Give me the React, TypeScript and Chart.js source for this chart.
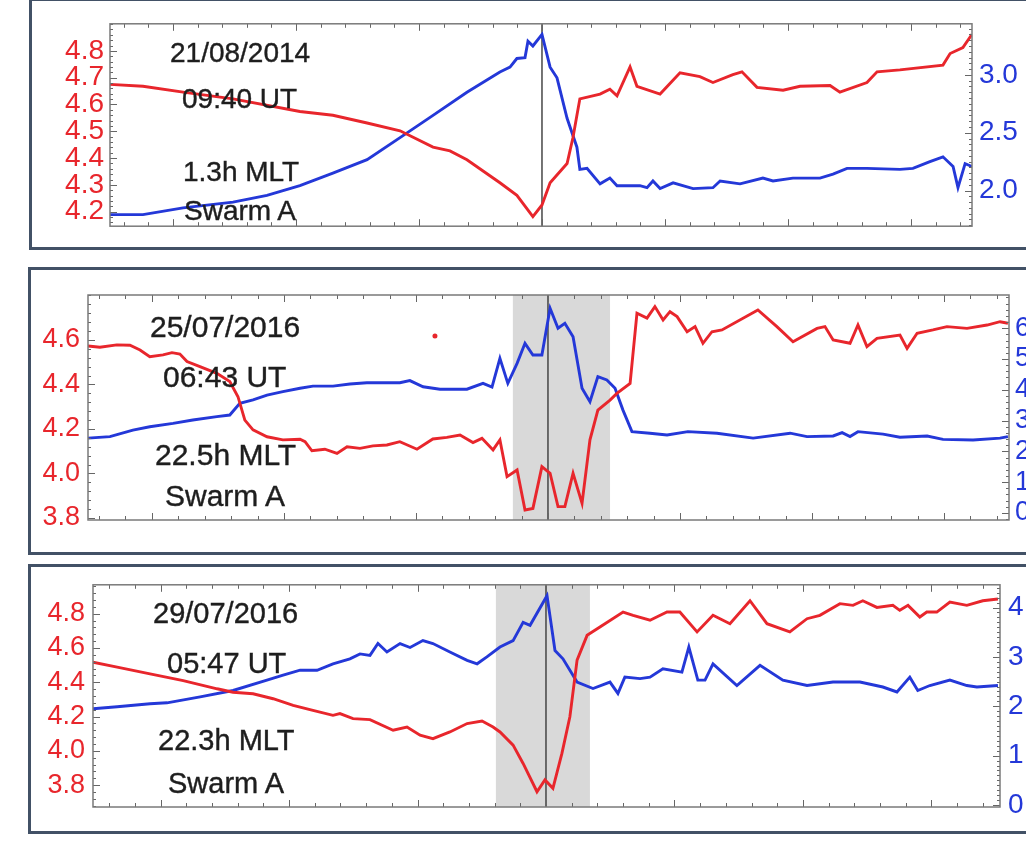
import React, { useEffect, useRef } from "react";
import { Chart, registerables } from "chart.js";

Chart.register(...registerables);

const RED = "#e8262c";
const BLUE = "#2438d8";
const FONT = "'Liberation Sans', Arial, sans-serif";

// ---------------- Panel 1 (21/08/2014) ----------------
const p1Notes = ["21/08/2014", "09:40 UT", "1.3h MLT", "Swarm A"];
const p1RedX = [2.44,3.78,5.41,7.44,10.16,11.50,12.89,14.23,15.57,16.26,16.95,18.29,18.98,19.63,20.0,20.33,21.02,21.26,21.42,21.54,22.36,22.76,23.05,23.58,23.86,24.80,25.61,26.42,26.95,27.76,28.13,28.74,29.80,30.49,31.71,32.11,33.21,33.62,34.55,36.30,36.59,37.11,37.48];
const p1Red = [4.675,4.668,4.646,4.621,4.574,4.56,4.531,4.502,4.441,4.427,4.394,4.308,4.261,4.182,4.225,4.308,4.38,4.477,4.56,4.621,4.639,4.657,4.632,4.74,4.668,4.639,4.718,4.704,4.682,4.711,4.722,4.664,4.653,4.668,4.671,4.646,4.682,4.722,4.729,4.747,4.79,4.812,4.862];
const p1BlueX = [2.44,3.78,5.41,7.44,8.82,10.16,11.50,12.89,14.23,15.57,16.95,18.29,18.70,18.98,19.31,19.43,19.63,20.0,20.33,20.61,21.02,21.42,21.54,21.83,22.36,22.76,23.05,23.98,24.27,24.51,24.80,25.33,26.14,26.95,27.24,28.05,28.98,29.39,30.20,31.30,31.83,32.40,33.21,34.55,35.08,35.77,36.30,36.71,36.91,37.20,37.48];
const p1Blue = [1.792,1.792,1.85,1.9,1.958,2.042,2.15,2.267,2.458,2.65,2.85,3.025,3.067,3.142,3.15,3.292,3.25,3.35,3.067,2.975,2.625,2.375,2.183,2.192,2.058,2.108,2.042,2.042,2.025,2.083,2.017,2.067,2.017,2.025,2.083,2.058,2.108,2.083,2.108,2.108,2.142,2.192,2.192,2.183,2.192,2.25,2.292,2.208,2.025,2.233,2.208];
const p1LeftTicks = [4.2, 4.3, 4.4, 4.5, 4.6, 4.7, 4.8];
const p1LeftLabels = ["4.2", "4.3", "4.4", "4.5", "4.6", "4.7", "4.8"];
const p1RightTicks = [2.0, 2.5, 3.0];
const p1RightLabels = ["2.0", "2.5", "3.0"];
const p1Event = 20;

// ---------------- Panel 2 (25/07/2016) ----------------
const p2Notes = ["25/07/2016", "06:43 UT", "22.5h MLT", "Swarm A"];
const p2RedX = [2.58,3.03,3.67,4.17,4.55,4.92,5.42,5.76,6.06,6.33,6.82,7.46,7.95,8.26,8.52,8.83,9.36,9.96,10.61,10.80,11.06,11.55,12.01,12.39,12.88,13.37,13.90,14.39,15.04,15.64,16.17,16.67,17.16,17.50,17.92,18.18,18.45,18.83,19.13,19.43,19.77,20.08,20.38,20.64,20.95,21.29,21.59,21.89,22.35,22.61,23.11,23.37,23.75,24.05,24.36,24.62,24.89,25.27,25.57,25.87,26.21,26.59,27.95,28.67,29.28,30.19,30.49,30.80,31.44,31.74,32.08,32.46,33.33,33.60,33.98,34.58,35.11,35.87,36.63,37.12,37.42];
const p2Red = [4.573,4.567,4.578,4.576,4.555,4.525,4.533,4.543,4.537,4.503,4.48,4.45,4.413,4.345,4.24,4.196,4.165,4.151,4.154,4.143,4.102,4.109,4.09,4.12,4.113,4.124,4.128,4.143,4.109,4.155,4.162,4.173,4.139,4.158,4.106,4.151,3.986,4.016,3.836,3.843,4.031,4.001,3.851,3.851,4.001,3.866,4.151,4.285,4.33,4.36,4.405,4.72,4.698,4.75,4.69,4.727,4.705,4.637,4.66,4.585,4.637,4.645,4.735,4.66,4.592,4.652,4.66,4.6,4.585,4.667,4.57,4.607,4.622,4.562,4.63,4.645,4.66,4.652,4.667,4.682,4.675];
const p2BlueX = [2.58,3.41,4.28,4.92,5.80,6.55,7.46,7.95,8.33,8.83,9.36,9.96,10.61,11.10,11.86,12.50,13.14,14.39,14.77,15.27,15.91,16.93,17.54,17.88,18.18,18.48,18.83,19.13,19.43,19.77,20.08,20.38,20.64,20.95,21.29,21.59,21.89,22.23,22.54,22.84,23.18,23.86,24.51,25.30,26.40,27.77,29.17,29.81,30.80,31.14,31.44,31.74,32.69,33.33,34.36,34.96,36.10,37.12,37.42];
const p2Blue = [2.43,2.48,2.69,2.80,2.91,3.02,3.13,3.18,3.56,3.67,3.83,3.94,4.05,4.12,4.12,4.19,4.23,4.23,4.30,4.10,4.02,4.02,4.21,4.09,5.02,4.21,4.86,5.51,5.13,5.13,6.65,6.00,6.16,5.72,4.05,3.61,4.43,4.32,4.05,3.34,2.64,2.59,2.53,2.64,2.59,2.43,2.59,2.48,2.50,2.61,2.48,2.64,2.56,2.46,2.50,2.39,2.37,2.43,2.48];
const p2StrayX = [15.72];
const p2Stray = [4.618];
const p2LeftTicks = [3.8, 4.0, 4.2, 4.4, 4.6];
const p2LeftLabels = ["3.8", "4.0", "4.2", "4.4", "4.6"];
const p2RightTicks = [0, 1, 2, 3, 4, 5, 6];
const p2RightLabels = ["0", "1", "2", "3", "4", "5", "6"];
const p2Event = 20;
const p2Shade = [18.67, 22.35];

// ---------------- Panel 3 (29/07/2016) ----------------
const p3Notes = ["29/07/2016", "05:47 UT", "22.3h MLT", "Swarm A"];
const p3RedX = [2.37,3.31,4.59,5.88,7.20,7.82,8.60,9.38,10.16,10.93,11.71,11.98,12.49,13.15,14.05,14.59,15.10,15.60,16.26,16.93,17.51,17.94,18.21,18.72,19.11,19.65,19.96,20.27,20.62,20.93,21.21,21.60,22.10,23.00,23.39,24.05,24.71,25.21,25.88,26.50,27.16,27.94,28.60,29.49,30.16,30.66,31.44,31.95,32.33,32.88,33.50,33.77,34.09,34.55,34.82,35.21,35.72,36.38,37.00,37.59];
const p3Red = [4.517,4.488,4.449,4.41,4.362,4.342,4.333,4.304,4.265,4.236,4.207,4.217,4.188,4.182,4.12,4.139,4.091,4.071,4.11,4.159,4.174,4.139,4.11,4.033,3.926,3.761,3.83,3.781,3.985,4.199,4.529,4.674,4.723,4.81,4.791,4.762,4.81,4.81,4.694,4.791,4.742,4.876,4.742,4.694,4.771,4.791,4.859,4.849,4.876,4.837,4.849,4.82,4.849,4.781,4.81,4.81,4.868,4.849,4.876,4.886];
const p3BlueX = [2.37,3.31,4.59,5.25,6.54,7.82,9.14,9.77,10.43,11.09,11.71,12.37,12.76,13.15,13.46,13.81,14.32,14.71,15.21,15.60,16.26,16.93,17.32,17.70,18.21,18.72,19.11,19.38,20.04,20.35,20.66,21.21,21.83,22.49,22.80,23.07,23.66,24.05,24.55,25.29,25.56,25.91,26.19,26.50,27.43,28.33,29.22,30.16,31.17,32.22,33.11,33.66,34.16,34.47,34.94,35.72,36.38,36.77,37.59];
const p3Blue = [1.95,1.99,2.05,2.07,2.19,2.32,2.53,2.63,2.73,2.73,2.86,2.96,3.06,3.03,3.27,3.10,3.27,3.19,3.33,3.27,3.10,2.93,2.86,3.00,3.20,3.33,3.70,3.64,4.24,3.13,2.96,2.49,2.36,2.49,2.26,2.59,2.56,2.59,2.76,2.69,3.20,2.53,2.53,2.86,2.42,2.83,2.53,2.42,2.49,2.49,2.39,2.29,2.59,2.32,2.42,2.53,2.42,2.39,2.42];
const p3LeftTicks = [3.8, 4.0, 4.2, 4.4, 4.6, 4.8];
const p3LeftLabels = ["3.8", "4.0", "4.2", "4.4", "4.6", "4.8"];
const p3RightTicks = [0, 1, 2, 3, 4];
const p3RightLabels = ["0", "1", "2", "3", "4"];
const p3Event = 20;
const p3Shade = [18.05, 21.71];

// ---------------- helpers ----------------
const zip = (xs: number[], ys: number[]) =>
  xs.slice(0, Math.min(xs.length, ys.length)).map((x, i) => ({ x, y: ys[i] }));

type Axis = { min: number; max: number; ticks: number[]; labels: string[]; minor: number; font: number; pad: number };
type Panel = {
  box: { left: number; top: number; height: number };
  canvasTop: number;
  canvasH: number;
  plot: { l: number; r: number; t: number; b: number };
  xMin: number;
  xMax: number;
  redX: number[];
  red: number[];
  blueX: number[];
  blue: number[];
  strayX?: number[];
  stray?: number[];
  left: Axis;
  right: Axis;
  event: number;
  shade?: number[];
  notes: string[];
  noteFont: number;
  notePos: number[][];
};

const W = 1026;

const panels: Panel[] = [
  {
    box: { left: 29, top: -2, height: 252 },
    canvasTop: 0,
    canvasH: 250,
    plot: { l: 110, r: 972, t: 22, b: 232 },
    xMin: 2.44,
    xMax: 37.48,
    redX: p1RedX, red: p1Red, blueX: p1BlueX, blue: p1Blue,
    left: { min: 4.146, max: 4.901, ticks: p1LeftTicks, labels: p1LeftLabels, minor: 0.02, font: 28, pad: 6 },
    right: { min: 1.692, max: 3.442, ticks: p1RightTicks, labels: p1RightLabels, minor: 0.05, font: 28, pad: 7 },
    event: p1Event,
    notes: p1Notes,
    noteFont: 28,
    notePos: [[170, 39], [182, 85], [183, 158], [184, 197]],
  },
  {
    box: { left: 28, top: 267, height: 288 },
    canvasTop: 258,
    canvasH: 298,
    plot: { l: 88, r: 1009, t: 295, b: 520 },
    xMin: 2.58,
    xMax: 37.46,
    redX: p2RedX, red: p2Red, blueX: p2BlueX, blue: p2Blue,
    strayX: p2StrayX, stray: p2Stray,
    left: { min: 3.791, max: 4.802, ticks: p2LeftTicks, labels: p2LeftLabels, minor: 0.04, font: 27, pad: 8 },
    right: { min: -0.23, max: 7.08, ticks: p2RightTicks, labels: p2RightLabels, minor: 0.2, font: 27, pad: 6 },
    event: p2Event,
    shade: p2Shade,
    notes: p2Notes,
    noteFont: 30,
    notePos: [[150, 312], [163, 362], [155, 440], [165, 481]],
  },
  {
    box: { left: 28, top: 564, height: 270 },
    canvasTop: 560,
    canvasH: 276,
    plot: { l: 93, r: 1000, t: 584, b: 807 },
    xMin: 2.37,
    xMax: 37.67,
    redX: p3RedX, red: p3Red, blueX: p3BlueX, blue: p3Blue,
    left: { min: 3.672, max: 4.969, ticks: p3LeftTicks, labels: p3LeftLabels, minor: 0.04, font: 27, pad: 8 },
    right: { min: -0.04, max: 4.46, ticks: p3RightTicks, labels: p3RightLabels, minor: 0.1, font: 28, pad: 8 },
    event: p3Event,
    shade: p3Shade,
    notes: p3Notes,
    noteFont: 29,
    notePos: [[153, 599], [167, 649], [158, 726], [168, 769]],
  },
];

const framePlugin = {
  id: "frame",
  beforeDatasetsDraw(chart: any, _args: any, o: any) {
    const { ctx, chartArea: a } = chart;
    const xs = chart.scales.x;
    ctx.save();
    if (o.shade) {
      const x0 = xs.getPixelForValue(o.shade[0]);
      const x1 = xs.getPixelForValue(o.shade[1]);
      ctx.fillStyle = "#d9d9d9";
      ctx.fillRect(x0, a.top, x1 - x0, a.bottom - a.top);
    }
    const xv = xs.getPixelForValue(o.event);
    ctx.strokeStyle = "#3a3a3a";
    ctx.lineWidth = 1.4;
    ctx.beginPath();
    ctx.moveTo(xv, a.top);
    ctx.lineTo(xv, a.bottom);
    ctx.stroke();
    ctx.restore();
  },
  afterDatasetsDraw(chart: any, _args: any, o: any) {
    const { ctx, chartArea: a, scales } = chart;
    ctx.save();
    ctx.strokeStyle = "#666";
    ctx.lineWidth = 1;
    const seg = (x1: number, y1: number, x2: number, y2: number) => {
      ctx.beginPath();
      ctx.moveTo(x1, y1);
      ctx.lineTo(x2, y2);
      ctx.stroke();
    };
    const xs = scales.x;
    for (let k = Math.ceil(xs.min); k <= xs.max; k++) {
      const px = Math.round(xs.getPixelForValue(k)) + 0.5;
      const len = k % 5 === 0 ? 7 : 4;
      seg(px, a.bottom, px, a.bottom - len);
      seg(px, a.top, px, a.top + len);
    }
    const yTicks = (sc: any, minor: number, majors: number[], edge: number, dir: number) => {
      for (let k = Math.ceil(sc.min / minor - 1e-6); k * minor <= sc.max + 1e-6; k++) {
        const py = Math.round(sc.getPixelForValue(k * minor)) + 0.5;
        seg(edge, py, edge + dir * 3, py);
      }
      majors.forEach((v) => {
        const py = Math.round(sc.getPixelForValue(v)) + 0.5;
        seg(edge, py, edge + dir * 7, py);
      });
    };
    yTicks(scales.yL, o.leftMinor, o.leftTicks, a.left, 1);
    yTicks(scales.yR, o.rightMinor, o.rightTicks, a.right, -1);
    ctx.strokeStyle = "#7a7a7a";
    ctx.lineWidth = 1.5;
    ctx.strokeRect(a.left, a.top, a.right - a.left, a.bottom - a.top);
    ctx.restore();
  },
};

function axisOptions(ax: Axis, pos: string, color: string, width: number) {
  return {
    type: "linear",
    position: pos,
    min: ax.min,
    max: ax.max,
    grid: { display: false, drawTicks: false },
    border: { display: false },
    ticks: {
      color,
      font: { family: FONT, size: ax.font },
      padding: ax.pad,
      autoSkip: false,
      callback: (v: any) => {
        const i = ax.ticks.findIndex((t) => Math.abs(t - Number(v)) < 1e-6);
        return i >= 0 ? ax.labels[i] : "";
      },
    },
    afterBuildTicks: (s: any) => {
      s.ticks = ax.ticks.map((v) => ({ value: v }));
    },
    afterFit: (s: any) => {
      s.width = width;
    },
  };
}

function PanelChart({ p }: { p: Panel }) {
  const ref = useRef<HTMLCanvasElement | null>(null);
  useEffect(() => {
    if (!ref.current) return;
    const datasets: any[] = [
      {
        data: zip(p.redX, p.red),
        borderColor: RED,
        borderWidth: 2.9,
        pointRadius: 0,
        tension: 0,
        yAxisID: "yL",
      },
      {
        data: zip(p.blueX, p.blue),
        borderColor: BLUE,
        borderWidth: 2.9,
        pointRadius: 0,
        tension: 0,
        yAxisID: "yR",
      },
    ];
    if (p.strayX && p.stray) {
      datasets.push({
        data: zip(p.strayX, p.stray),
        showLine: false,
        pointRadius: 2.5,
        pointBackgroundColor: RED,
        pointBorderWidth: 0,
        borderColor: RED,
        yAxisID: "yL",
      });
    }
    const chart = new Chart(ref.current, {
      type: "line",
      data: { datasets },
      options: {
        responsive: false,
        animation: false,
        devicePixelRatio: 1,
        layout: {
          padding: {
            top: p.plot.t - p.canvasTop,
            bottom: p.canvasTop + p.canvasH - p.plot.b,
            left: 0,
            right: 0,
          },
        },
        plugins: {
          legend: { display: false },
          tooltip: { enabled: false },
          frame: {
            shade: p.shade,
            event: p.event,
            leftMinor: p.left.minor,
            leftTicks: p.left.ticks,
            rightMinor: p.right.minor,
            rightTicks: p.right.ticks,
          },
        } as any,
        scales: {
          x: { type: "linear", min: p.xMin, max: p.xMax, display: false },
          yL: axisOptions(p.left, "left", RED, p.plot.l),
          yR: axisOptions(p.right, "right", BLUE, W - p.plot.r),
        } as any,
      },
      plugins: [framePlugin as any],
    });
    return () => chart.destroy();
  }, [p]);
  return (
    <canvas
      ref={ref}
      width={W}
      height={p.canvasH}
      style={{ position: "absolute", left: 0, top: p.canvasTop, width: W, height: p.canvasH }}
    />
  );
}

export default function App() {
  return (
    <div
      style={{
        position: "fixed",
        left: 0,
        top: 0,
        width: W,
        height: 843,
        overflow: "hidden",
        background: "#ffffff",
      }}
    >
      {panels.map((p, i) => (
        <div
          key={"box" + i}
          style={{
            position: "absolute",
            left: p.box.left,
            top: p.box.top,
            width: 1100,
            height: p.box.height,
            border: "3.5px solid #425166",
            boxSizing: "border-box",
            background: "#ffffff",
          }}
        />
      ))}
      {panels.map((p, i) => (
        <PanelChart key={"chart" + i} p={p} />
      ))}
      {panels.map((p, i) =>
        p.notes.map((t, j) => (
          <div
            key={"n" + i + "-" + j}
            style={{
              position: "absolute",
              left: p.notePos[j][0],
              top: p.notePos[j][1],
              fontFamily: FONT,
              fontSize: p.noteFont,
              lineHeight: p.noteFont + "px",
              color: "#1e1e1e",
              whiteSpace: "nowrap",
              WebkitTextStroke: "0.4px #1e1e1e",
            }}
          >
            {t}
          </div>
        ))
      )}
    </div>
  );
}
